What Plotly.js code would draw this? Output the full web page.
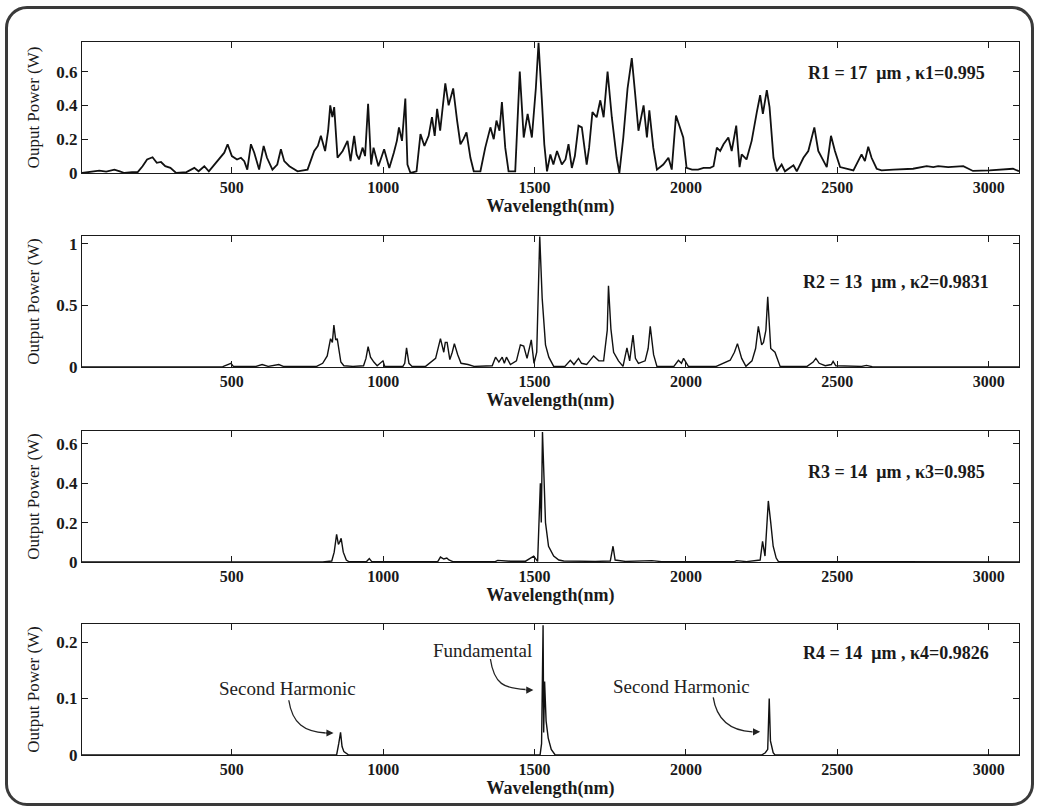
<!DOCTYPE html>
<html>
<head>
<meta charset="utf-8">
<script src="https://cdn.plot.ly/plotly-3.0.1.min.js"></script>
<style>
  html, body { margin:0; padding:0; background:#fff; }
  #wrap { position:relative; width:1039px; height:807px; }
  #chart { position:absolute; left:0; top:0; width:1039px; height:807px; }
  #frame { position:absolute; left:5px; top:6px; width:1029px; height:800px; box-sizing:border-box;
           border:3px solid #3a3a3a; border-radius:22px; pointer-events:none; }
</style>
</head>
<body>
<div id="wrap"><div id="chart"></div><div id="frame"></div></div>
<script>
// ---------- data ----------
const wl1 = [5,30,62,85,112,130,145,170,189,205,220,238,252,266,280,297,316,350,376,390,409,424,442,462,475,486,500,517,530,541,551,563,574,590,605,616,634,650,662,673,690,717,735,750,760,772,784,794,808,818,825,832,838,849,866,882,892,904,912,920,932,940,950,960,968,984,1003,1020,1035,1045,1052,1062,1073,1080,1090,1110,1123,1136,1150,1161,1170,1178,1188,1205,1216,1231,1244,1255,1265,1275,1288,1299,1321,1337,1354,1365,1374,1384,1392,1403,1414,1436,1451,1464,1477,1491,1504,1513,1524,1532,1541,1552,1562,1574,1590,1602,1612,1623,1633,1645,1656,1672,1680,1691,1705,1717,1728,1741,1755,1771,1780,1793,1807,1821,1832,1843,1860,1871,1879,1892,1904,1925,1942,1953,1967,1980,1991,2002,2020,2040,2058,2080,2091,2102,2113,2124,2140,2151,2166,2177,2184,2200,2217,2234,2245,2254,2267,2276,2289,2300,2316,2327,2355,2366,2388,2404,2424,2437,2454,2465,2479,2492,2509,2531,2553,2580,2591,2602,2613,2630,2646,2685,2750,2795,2817,2833,2866,2916,2948,3003,3080,3100];
const p1  = [0,0.005,0.014,0.008,0.02,0.01,0,0.005,0.005,0.04,0.08,0.093,0.06,0.065,0.04,0.03,0,0.005,0.03,0.01,0.04,0.01,0.05,0.09,0.12,0.17,0.10,0.08,0.09,0.07,0.02,0.17,0.12,0.02,0.16,0.09,0.02,0.05,0.14,0.07,0.04,0.01,0.015,0.02,0.07,0.13,0.16,0.22,0.13,0.25,0.40,0.33,0.39,0.09,0.13,0.19,0.07,0.22,0.11,0.08,0.15,0.10,0.41,0.05,0.15,0.04,0.14,0.03,0.12,0.19,0.27,0.19,0.44,0.05,0,0.01,0.23,0.16,0.22,0.33,0.22,0.38,0.25,0.53,0.40,0.50,0.31,0.17,0.20,0.24,0.09,0.01,0.01,0.15,0.27,0.20,0.31,0.25,0.42,0.15,0.01,0.01,0.60,0.21,0.35,0.21,0.50,0.77,0.43,0.17,0.01,0.11,0.05,0.13,0.05,0.08,0.17,0.03,0.10,0.28,0.27,0.05,0.15,0.36,0.33,0.43,0.33,0.60,0.33,0.09,0,0.21,0.50,0.68,0.47,0.25,0.40,0.21,0.37,0.15,0.02,0.05,0.09,0.02,0.34,0.27,0.21,0.03,0.02,0.02,0.03,0.03,0.04,0.15,0.13,0.17,0.21,0.13,0.28,0.035,0.11,0.08,0.19,0.36,0.46,0.35,0.49,0.39,0.09,0.01,0.05,0.01,0.045,0.01,0.09,0.13,0.27,0.13,0.07,0.035,0.22,0.13,0.035,0.025,0.015,0.11,0.07,0.155,0.09,0.025,0.015,0.02,0.025,0.04,0.035,0.04,0.035,0.04,0.012,0.015,0.025,0.01];

const wl2 = [5,200,243,300,470,497,505,580,600,620,655,670,780,800,815,826,832,837,843,848,854,860,870,900,935,943,950,958,969,980,999,1005,1065,1071,1077,1085,1095,1140,1173,1180,1189,1200,1205,1211,1220,1228,1235,1246,1257,1280,1300,1360,1371,1382,1393,1400,1407,1420,1440,1453,1464,1475,1489,1498,1507,1517,1525,1536,1547,1563,1600,1618,1630,1645,1655,1672,1695,1712,1728,1740,1744,1752,1761,1777,1792,1805,1814,1825,1833,1843,1865,1875,1882,1893,1904,1960,1975,1985,1992,2008,2100,2146,2160,2170,2184,2198,2218,2230,2239,2250,2256,2264,2270,2280,2294,2311,2400,2420,2429,2440,2460,2480,2486,2495,2580,2596,2615,3100];
const p2  = [0,0,0.005,0,0.003,0.03,0.005,0.005,0.02,0.005,0.02,0.005,0.005,0.03,0.09,0.23,0.20,0.34,0.22,0.23,0.12,0.04,0.01,0.005,0.01,0.07,0.165,0.08,0.04,0.01,0.05,0.005,0.005,0.03,0.155,0.03,0.005,0.005,0.07,0.15,0.23,0.12,0.20,0.20,0.06,0.12,0.19,0.10,0.03,0.02,0.005,0.01,0.08,0.04,0.08,0.03,0.08,0.02,0.05,0.18,0.17,0.07,0.22,0.03,0.12,1.06,0.56,0.18,0.08,0.005,0.005,0.055,0.02,0.07,0.03,0.02,0.09,0.05,0.05,0.30,0.66,0.31,0.12,0.05,0.005,0.155,0.05,0.26,0.07,0.03,0.05,0.15,0.33,0.10,0.005,0.005,0.055,0.03,0.07,0.005,0.005,0.055,0.12,0.19,0.07,0.005,0.05,0.15,0.33,0.18,0.20,0.30,0.57,0.15,0.12,0.005,0.005,0.04,0.07,0.03,0.01,0.02,0.045,0.01,0.005,0.013,0.003,0];

const wl3 = [5,800,830,838,846,852,856,861,868,878,886,945,954,962,1180,1189,1200,1210,1217,1230,1370,1378,1420,1470,1497,1510,1519,1522,1526,1530,1536,1546,1563,1580,1596,1700,1750,1759,1766,1800,1840,1887,1920,2160,2167,2200,2245,2253,2261,2272,2280,2288,2298,2305,3100];
const p3  = [0,0,0.005,0.05,0.14,0.09,0.10,0.12,0.05,0.01,0.002,0.002,0.017,0.002,0.002,0.025,0.015,0.02,0.01,0.002,0.002,0.008,0.004,0.004,0.03,0.003,0.40,0.20,0.66,0.44,0.20,0.08,0.03,0.01,0.005,0.003,0.005,0.08,0.01,0.003,0.005,0.007,0.002,0.002,0.007,0.002,0.01,0.105,0.03,0.31,0.20,0.08,0.02,0.003,0];

const wl4 = [5,846,853,859,864,870,886,1518,1523,1528,1530,1533,1538,1545,1555,1568,2250,2262,2270,2275,2279,2288,2294,3100];
const p4  = [0,0,0.02,0.04,0.015,0.006,0,0,0.02,0.23,0.04,0.13,0.06,0.03,0.01,0,0,0.004,0.01,0.10,0.025,0.004,0,0];

const xTicks = [500,1000,1500,2000,2500,3000];
const yTicks1 = [0,0.2,0.4,0.6];
const yTicks2 = [0,0.5,1];
const yTicks3 = [0,0.2,0.4,0.6];
const yTicks4 = [0,0.1,0.2];
const yTitles = ['Ouput Power (W)','Output Power (W)','Output Power (W)','Output Power (W)'];
const labels = ['R1 = 17  μm , κ1=0.995','R2 = 13  μm , κ2=0.9831','R3 = 14  μm , κ3=0.985','R4 = 14  μm , κ4=0.9826'];

// ---------- layout ----------
const SERIF = '"Liberation Serif","Times New Roman",serif';
const INK = '#1a1a1a';
const xr = [5,3100];
const yRanges = [[0,0.775],[0,1.065],[0,0.665],[0,0.232]];
const domains = [[0.8163,1.0],[0.5442,0.7279],[0.2707,0.4544],[0,0.1837]];
const yTickSets = [yTicks1,yTicks2,yTicks3,yTicks4];

function xAxis(anchor){
  return {anchor:anchor, range:xr, tickvals:xTicks, ticks:'inside', ticklen:6, tickwidth:1, tickcolor:INK,
    showline:true, linecolor:INK, linewidth:1, mirror:'ticks', showgrid:false, zeroline:false,
    tickfont:{family:SERIF, size:16, color:INK, weight:'bold'},
    title:{text:'Wavelength(nm)', font:{family:SERIF, size:18, color:INK, weight:'bold'}, standoff:0},
    fixedrange:true};
}
function yAxis(i){
  return {anchor: i===0?'x':'x'+(i+1), domain:domains[i], range:yRanges[i], tickvals:yTickSets[i],
    ticks:'inside', ticklen:6, tickwidth:1, tickcolor:INK,
    showline:true, linecolor:INK, linewidth:1, mirror:'ticks', showgrid:false, zeroline:false,
    tickfont:{family:SERIF, size:17, color:INK, weight:'bold'},
    title:{text:yTitles[i], font:{family:SERIF, size:17, color:INK}, standoff:12},
    fixedrange:true};
}

const series = [[wl1,p1],[wl2,p2],[wl3,p3],[wl4,p4]];
const traces = series.map((s,i)=>({
  x:s[0], y:s[1], type:'scatter', mode:'lines',
  xaxis: i===0?'x':'x'+(i+1), yaxis: i===0?'y':'y'+(i+1),
  line:{color:'#111', width: i===0?1.8:1.4}, hoverinfo:'skip', showlegend:false
}));

const layout = {
  width:1039, height:807,
  margin:{l:82, r:20, t:42, b:52},
  paper_bgcolor:'#fff', plot_bgcolor:'#fff',
  showlegend:false,
  annotations:[], shapes:[]
};
for(let i=0;i<4;i++){
  const xs = i===0?'xaxis':'xaxis'+(i+1);
  const ys = i===0?'yaxis':'yaxis'+(i+1);
  layout[xs] = xAxis(i===0?'y':'y'+(i+1));
  layout[ys] = yAxis(i);
}
const labY = [0.763,0.649,0.687,0.779];
labels.forEach((t,i)=>{
  const xa = i===0?'x':'x'+(i+1), ya = i===0?'y':'y'+(i+1);
  layout.annotations.push({text:t, xref:xa+' domain', yref:ya+' domain', x:0.869, y:labY[i],
    xanchor:'center', yanchor:'middle', showarrow:false,
    font:{family:SERIF, size:18, color:INK, weight:'bold'}});
});

// annotations in panel 4 (text + curved arrow)
const notes = [
  {text:'Second Harmonic', tx:685, ty:0.117, path:'M 688,0.097 C 700,0.055 740,0.041 810,0.039', tip:[836,0.039]},
  {text:'Fundamental',     tx:1328, ty:0.185, path:'M 1354,0.170 C 1366,0.125 1400,0.118 1470,0.116', tip:[1496,0.115]},
  {text:'Second Harmonic', tx:1984, ty:0.122, path:'M 2090,0.102 C 2102,0.060 2150,0.043 2219,0.041', tip:[2245,0.041]}
];
notes.forEach(n=>{
  layout.annotations.push({text:n.text, xref:'x4', yref:'y4', x:n.tx, y:n.ty, showarrow:false,
    xanchor:'center', yanchor:'middle', font:{family:SERIF, size:19, color:'#222'}});
  layout.shapes.push({type:'path', xref:'x4', yref:'y4', path:n.path, line:{color:'#222', width:1.3}});
  layout.annotations.push({text:'', xref:'x4', yref:'y4', x:n.tip[0], y:n.tip[1], ax:-9, ay:0,
    showarrow:true, arrowhead:2, arrowsize:1.1, arrowwidth:1.3, arrowcolor:'#222'});
});

Plotly.newPlot('chart', traces, layout, {displayModeBar:false, staticPlot:true});
</script>
</body>
</html>
